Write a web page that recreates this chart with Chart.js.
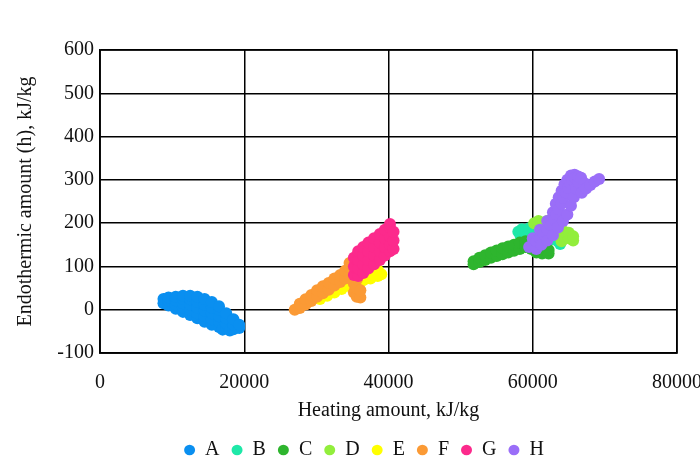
<!DOCTYPE html>
<html>
<head>
<meta charset="utf-8">
<script src="https://cdn.jsdelivr.net/npm/chart.js@4/dist/chart.umd.min.js"></script>
<style>
  html, body { margin: 0; padding: 0; background: #ffffff; overflow: hidden; }
  #wrap { width: 720px; height: 474px; position: relative; }
</style>
</head>
<body>
<div id="wrap"><canvas id="c"></canvas></div>
<script>
// Series names (legend)
const seriesNames = ['A', 'B', 'C', 'D', 'E', 'F', 'G', 'H'];
const seriesColors = ['#0a8ff0', '#1ee8a8', '#2eb52e', '#92ee3c', '#ffff00', '#fb9a35', '#fc2a8c', '#9a6ef8'];

// Axis ticks
const xTicks = [0, 20000, 40000, 60000, 80000];
const yTicks = [-100, 0, 100, 200, 300, 400, 500, 600];

// Series values: [heating amount kJ/kg, endothermic amount kJ/kg]
const seriesA = [
  [8800,15],[8800,25],[9500,10],[9500,20],[9500,28],
  [10500,2],[10500,12],[10500,22],[10500,30],
  [11500,-5],[11500,5],[11500,15],[11500,25],[11500,32],
  [12500,-12],[12500,0],[12500,12],[12500,24],[12500,32],
  [13500,-20],[13500,-8],[13500,5],[13500,18],[13500,30],
  [14500,-28],[14500,-15],[14500,-2],[14500,12],[14500,25],
  [15500,-35],[15500,-22],[15500,-8],[15500,5],[15500,18],
  [16500,-40],[16500,-28],[16500,-15],[16500,0],[16500,8],
  [17000,-46],[17500,-42],[17500,-32],[17500,-20],[17500,-8],
  [18000,-48],[18500,-45],[18500,-35],[18500,-22],
  [19300,-42],[19300,-35]
];
const seriesB = [
  [58000,180],[58300,172],[58500,186],[59000,178],[59200,170],[59500,188],
  [60000,180],[60500,172],[61000,178],[61500,168],[62000,172],
  [62500,162],[63000,166],[63500,158],[63800,152]
];
const seriesC = [
  [51800,105],[51800,112],[52600,110],[52600,120],[53400,115],[53400,126],
  [54200,120],[54200,132],[55000,124],[55000,137],[55800,128],[55800,142],
  [56600,132],[56600,146],[57400,136],[57400,150],[58200,140],[58200,155],
  [59000,145],[59000,158],[59800,140],[59800,150],[60500,132],[60500,142],
  [61300,130],[61300,140],[62200,130],[62200,138]
];
const seriesD = [
  [60200,200],[60800,205],[61000,190],[61400,198],[62000,192],[62000,205],
  [62600,185],[63200,178],[63500,190],[63800,172],[64000,158],[64400,168],
  [64400,180],[65000,165],[65000,178],[65600,160],[65600,170]
];
const seriesE = [
  [30500,25],[30500,35],[31500,32],[31500,42],[32500,40],[32500,50],
  [33500,48],[33500,58],[34500,55],[34500,66],[35500,62],[35500,74],
  [36500,68],[36500,80],[37500,72],[37500,86],[38500,78],[38500,92],[39000,82]
];
const seriesF = [
  [27000,0],[27700,4],[27700,14],[28500,12],[28500,24],[29300,20],[29300,34],
  [30100,30],[30100,45],[30900,38],[30900,54],[31700,46],[31700,62],
  [32500,56],[32500,72],[33300,64],[33300,80],[34000,72],[34000,90],
  [34600,82],[34600,98],[34600,108],[35200,95],[35200,110],[35200,60],[35200,40],
  [35600,30],[35600,50],[35600,70],[36100,28],[36100,45]
];
const seriesG = [
  [35200,80],[35200,100],[35200,120],
  [35800,78],[35800,95],[35800,115],[35800,135],
  [36500,85],[36500,105],[36500,125],[36500,145],
  [37200,95],[37200,115],[37200,135],[37200,155],
  [38000,105],[38000,125],[38000,145],[38000,165],
  [38800,115],[38800,135],[38800,155],[38800,175],
  [39500,125],[39500,145],[39500,165],[39500,185],
  [40200,135],[40200,150],[40200,170],[40200,190],[40200,198],
  [40700,140],[40700,160],[40700,180]
];
const seriesH = [
  [59500,145],[60000,150],[60000,165],[60500,140],[60500,158],[61000,165],[61000,185],
  [61200,150],[61500,175],[62000,160],[62000,185],[62000,205],[62500,195],
  [62800,172],[62800,225],[63000,208],[63200,245],[63300,220],[63500,190],
  [63600,232],[63600,260],[64000,245],[64000,275],[64200,205],[64300,258],
  [64400,290],[64600,270],[64800,220],[64800,300],[64900,282],[65200,292],
  [65300,240],[65300,310],[65500,300],[65700,260],[65800,312],[65900,305],
  [66000,280],[66300,295],[66300,308],[66700,305],[66800,270],[67200,292],
  [67400,280],[68000,288],[68600,296],[69200,302]
];

const allSeries = [seriesA, seriesB, seriesC, seriesD, seriesE, seriesF, seriesG, seriesH];

const serif = "'Liberation Serif', 'Times New Roman', serif";

const datasets = allSeries.map((s, i) => ({
  label: seriesNames[i],
  data: s.map(p => ({ x: p[0], y: p[1] })),
  backgroundColor: seriesColors[i],
  borderColor: seriesColors[i],
  borderWidth: 0,
  pointRadius: 6,
  pointHoverRadius: 6,
  pointStyle: 'circle',
  order: allSeries.length - i
}));

const LEGEND_CENTER = 364;

new Chart(document.getElementById('c'), {
  type: 'scatter',
  data: { datasets },
  options: {
    responsive: true,
    maintainAspectRatio: false,
    animation: false,
    layout: { padding: { top: 50, right: 40, bottom: 4, left: 0 } },
    plugins: {
      tooltip: { enabled: false },
      legend: {
        position: 'bottom',
        labels: {
          usePointStyle: true,
          pointStyleWidth: 11,
          boxHeight: 7.5,
          padding: 12,
          color: '#111',
          font: { family: serif, size: 20 },
          sort: (a, b) => a.datasetIndex - b.datasetIndex
        }
      }
    },
    scales: {
      x: {
        type: 'linear',
        min: xTicks[0],
        max: xTicks[xTicks.length - 1],
        afterBuildTicks: (scale) => { scale.ticks = xTicks.map(v => ({ value: v })); },
        afterFit: (scale) => { scale.height -= 14; },
        grid: { color: '#000', lineWidth: 1.5, drawTicks: false },
        border: { color: '#000', width: 1.5 },
        ticks: {
          padding: 18,
          color: '#111',
          font: { family: serif, size: 20 },
          maxRotation: 0,
          callback: (v) => String(v)
        },
        title: {
          display: true,
          text: 'Heating amount, kJ/kg',
          color: '#111',
          font: { family: serif, size: 20 },
          padding: { top: 0, bottom: 5 }
        }
      },
      y: {
        type: 'linear',
        min: yTicks[0],
        max: yTicks[yTicks.length - 1],
        afterBuildTicks: (scale) => { scale.ticks = yTicks.map(v => ({ value: v })); },
        afterFit: (scale) => { scale.width = 100; },
        grid: { color: '#000', lineWidth: 1.5, drawTicks: false },
        border: { color: '#000', width: 1.5 },
        ticks: {
          padding: 6,
          color: '#111',
          font: { family: serif, size: 20 },
          callback: (v) => String(v)
        },
        title: {
          display: true,
          text: 'Endothermic amount (h), kJ/kg',
          color: '#111',
          font: { family: serif, size: 20 },
          padding: { top: 14, bottom: 0 }
        }
      }
    }
  },
  plugins: [{
    id: 'legendShift',
    afterLayout(chart) {
      const lg = chart.legend;
      if (!lg) return;
      const shift = LEGEND_CENTER - (lg.left + lg.right) / 2;
      lg.left += shift;
      lg.right += shift;
    }
  }, {
    id: 'frame',
    afterDatasetsDraw(chart) {
      const { ctx, chartArea: a } = chart;
      ctx.save();
      ctx.strokeStyle = '#000';
      ctx.lineWidth = 1.5;
      ctx.strokeRect(a.left, a.top, a.right - a.left, a.bottom - a.top);
      ctx.restore();
    }
  }]
});
</script>
</body>
</html>
